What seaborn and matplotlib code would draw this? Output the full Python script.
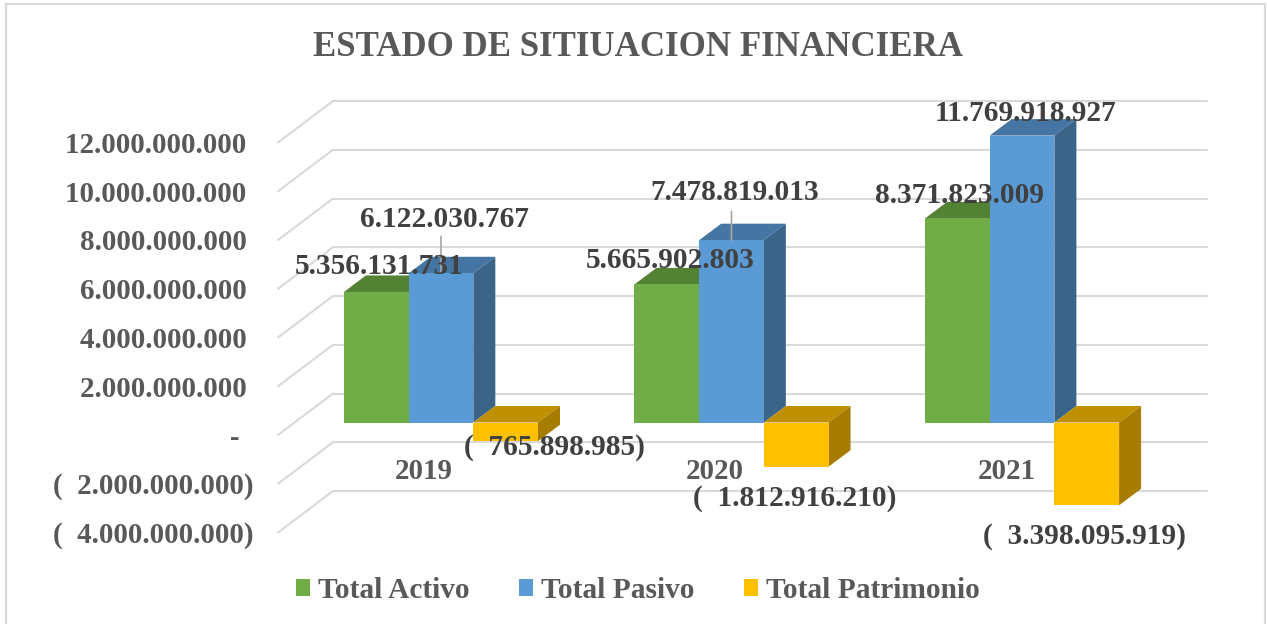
import matplotlib
matplotlib.use("Agg")
import matplotlib.pyplot as plt
from matplotlib.patches import Polygon, Rectangle
from matplotlib.transforms import Affine2D
import pandas as pd
import seaborn as sns

years = ["2019", "2020", "2021"]
series = ["Total Activo", "Total Pasivo", "Total Patrimonio"]
total_activo = [5356131731, 5665902803, 8371823009]
total_pasivo = [6122030767, 7478819013, 11769918927]
total_patrimonio = [-765898985, -1812916210, -3398095919]

activo_labels = ["5.356.131.731", "5.665.902.803", "8.371.823.009"]
pasivo_labels = ["6.122.030.767", "7.478.819.013", "11.769.918.927"]
patrimonio_labels = ["(  765.898.985)", "(  1.812.916.210)", "(  3.398.095.919)"]

y_ticks = [12e9, 10e9, 8e9, 6e9, 4e9, 2e9, 0, -2e9, -4e9]
y_tick_labels = [
    "12.000.000.000 ", "10.000.000.000 ", "8.000.000.000 ", "6.000.000.000 ",
    "4.000.000.000 ", "2.000.000.000 ", "-  ", "(  2.000.000.000)", "(  4.000.000.000)",
]

front_colors = ["#70AD47", "#5B9BD5", "#FFC000"]
top_colors = ["#548235", "#4475A3", "#BF9000"]
side_colors = ["#4B7530", "#3A6488", "#A67D00"]

# label offsets from the bar end, in pixels
activo_offsets = [(3, 25), (3, 24), (2, 23)]
pasivo_offsets = [(4, 54), (3, 48), (3, 22)]
patrimonio_offsets = [(49, -6), (-2, -32), (-2, -31)]

W, H = 1267, 624
TEXT = "#595959"
DARK = "#404040"
GRID = "#D9D9D9"
FS = 20.9

df = pd.DataFrame({
    "year": years * 3,
    "serie": [s for s in series for _ in years],
    "value": total_activo + total_pasivo + total_patrimonio,
})

sns.set_theme(style="white")
plt.rcParams["font.family"] = ["Liberation Serif", "DejaVu Sans"]
plt.rcParams["font.weight"] = "bold"

fig = plt.figure(figsize=(W / 100, H / 100), dpi=100)


def px_axes(left, right, top, bottom):
    return fig.add_axes([left / W, 1 - bottom / H, (right - left) / W, (bottom - top) / H])


# outer frame of the chart
fig.add_artist(Rectangle((6 / W, -0.01), 1259 / W, 1.01 - 4 / H, transform=fig.transFigure,
                         fill=False, ec="#D9D9D9", lw=1.6))

# front plane holds the axis labels, back wall is that plane moved by the depth
ax_wall = px_axes(278, 1152, 142.5, 532.5)
ax_wall.set_xlim(-0.5, 2.5)
ax_wall.set_ylim(-4e9, 12e9)
ax_wall.patch.set_alpha(0)
for s in ax_wall.spines.values():
    s.set_visible(False)
ax_wall.spines["bottom"].set_position(("data", 0))
ax_wall.set_xticks(range(3))
ax_wall.set_xticklabels(years, fontsize=FS, color=TEXT)
ax_wall.set_yticks(y_ticks)
ax_wall.set_yticklabels(y_tick_labels, fontsize=FS, color=TEXT)
ax_wall.tick_params(axis="x", length=0, pad=16.5)
ax_wall.tick_params(axis="y", length=0, pad=17.5)

wall_dx = 55 / 291.3
wall_dy = 41.5 * 16e9 / 390
back = ax_wall.transData + Affine2D().translate(55, 41.5)
for v in y_ticks:
    ax_wall.plot([-0.5, 2.5], [v, v], color=GRID, lw=1.5, transform=back, clip_on=False)
    ax_wall.plot([-0.5, -0.5 + wall_dx], [v, v + wall_dy], color=GRID, lw=1.5, clip_on=False)

# bars sit a little behind the front plane
ax_bar = px_axes(295.7, 1167.3, 130, 520)
sns.barplot(data=df, x="year", y="value", hue="serie", hue_order=series, order=years,
            palette=front_colors, saturation=1, width=0.668, gap=0, linewidth=0, ax=ax_bar)
ax_bar.set_xlim(-0.5, 2.5)
ax_bar.set_ylim(-4e9, 12e9)
ax_bar.patch.set_alpha(0)
ax_bar.set_xlabel("")
ax_bar.set_ylabel("")
ax_bar.set_xticks([])
ax_bar.set_yticks([])
for s in ax_bar.spines.values():
    s.set_visible(False)

depth_x = 22 / 290.5
depth_y = 16.5 * 16e9 / 390
for i, container in enumerate(ax_bar.containers):
    for bar in container:
        bar.set_zorder(5)
        x0 = bar.get_x()
        x1 = x0 + bar.get_width()
        high = max(0, bar.get_height())
        low = min(0, bar.get_height())
        ax_bar.add_patch(Polygon(
            [(x0, high), (x1, high), (x1 + depth_x, high + depth_y), (x0 + depth_x, high + depth_y)],
            fc=top_colors[i], ec="none", zorder=3 + i * 0.1, clip_on=False))
        ax_bar.add_patch(Polygon(
            [(x1, high), (x1 + depth_x, high + depth_y), (x1 + depth_x, low + depth_y), (x1, low)],
            fc=side_colors[i], ec="none", zorder=3 + i * 0.1, clip_on=False))

all_labels = [activo_labels, pasivo_labels, patrimonio_labels]
all_offsets = [activo_offsets, pasivo_offsets, patrimonio_offsets]
for container, labels, offsets in zip(ax_bar.containers, all_labels, all_offsets):
    for bar, label, off in zip(container, labels, offsets):
        ax_bar.annotate(label, (bar.get_x() + bar.get_width() / 2, bar.get_height()),
                        xytext=off, textcoords="offset pixels", ha="center", va="center",
                        fontsize=21.2, color=DARK, zorder=10, annotation_clip=False)

# leader lines for the two blue labels that were moved away from their bars
for bar, rise in zip(list(ax_bar.containers[1])[:2], [37, 29]):
    ax_bar.annotate("", (bar.get_x() + bar.get_width() / 2, bar.get_height()),
                    xytext=(0, rise), textcoords="offset pixels",
                    arrowprops=dict(arrowstyle="-", color="#A6A6A6", lw=1.2, shrinkA=0, shrinkB=0),
                    zorder=9)

sns.move_legend(ax_bar, "center", bbox_to_anchor=(638 / W, 1 - 590.5 / H),
                bbox_transform=fig.transFigure, ncol=3, frameon=False, title=None,
                fontsize=21.2, labelcolor=TEXT, handlelength=0.48, handleheight=0.48,
                handletextpad=0.27, columnspacing=1.68, borderpad=0, borderaxespad=0)

fig.text(638 / W, 1 - 47 / H, "ESTADO DE SITIUACION FINANCIERA", ha="center", va="center",
         fontsize=25.1, color=TEXT)

fig.savefig("out.png", dpi=100)
